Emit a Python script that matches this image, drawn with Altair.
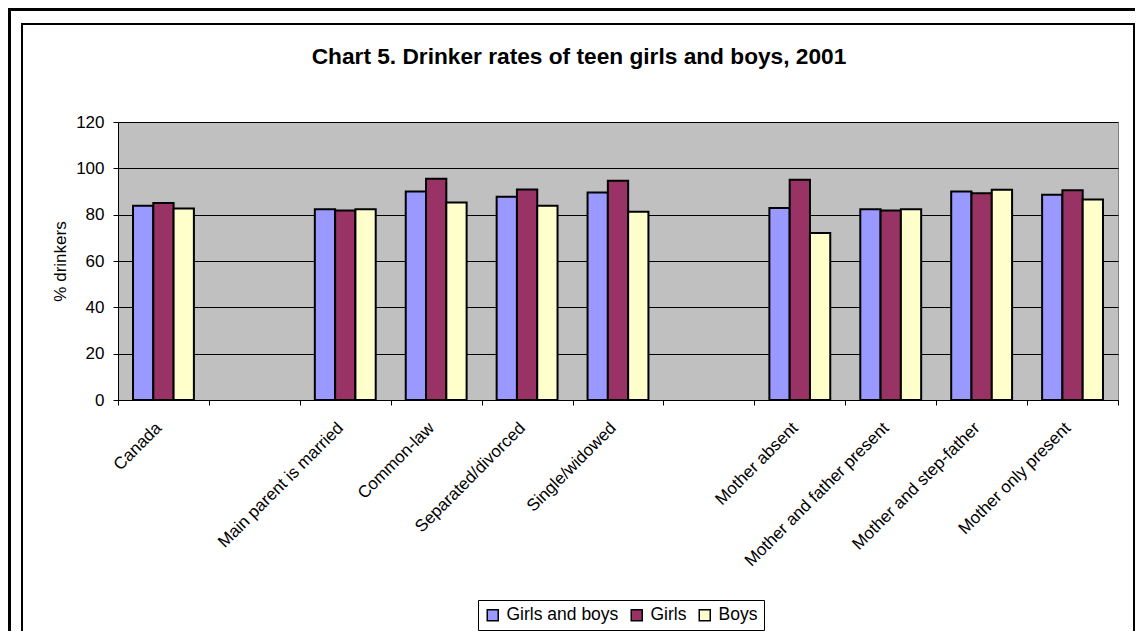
import altair as alt
import pandas as pd

# ---------------- data ----------------
title_text = "Chart 5. Drinker rates of teen girls and boys, 2001"
categories = [
    "Canada", " ", "Main parent is married", "Common-law",
    "Separated/divorced", "Single/widowed", "  ", "Mother absent",
    "Mother and father present", "Mother and step-father", "Mother only present",
]
groups = [
    "Canada", "Main parent is married", "Common-law", "Separated/divorced",
    "Single/widowed", "Mother absent", "Mother and father present",
    "Mother and step-father", "Mother only present",
]
series = ["Girls and boys", "Girls", "Boys"]
girls_and_boys = [83.9, 82.3, 90.0, 87.7, 89.6, 82.9, 82.3, 90.0, 88.6]
girls = [85.0, 81.8, 95.5, 90.9, 94.6, 95.1, 81.8, 89.2, 90.5]
boys = [82.7, 82.3, 85.2, 83.9, 81.3, 72.1, 82.3, 90.8, 86.6]
y_ticks = [0, 20, 40, 60, 80, 100, 120]
colors = ["#9999FF", "#993366", "#FFFFCC"]

rows = []
for s, vals in zip(series, [girls_and_boys, girls, boys]):
    for g, v in zip(groups, vals):
        rows.append({"category": g, "series": s, "value": v})
df = pd.DataFrame(rows)

FONT = "Liberation Sans"
W, H = 1000, 278

bars = alt.Chart(df).mark_bar(stroke="black", strokeWidth=2).encode(
    x=alt.X(
        "category:N",
        scale=alt.Scale(domain=categories, paddingInner=0, paddingOuter=0),
        axis=alt.Axis(
            title=None, labelAngle=-45, labelAlign="right", labelBaseline="middle",
            labelPadding=20, labelOffset=-5, tickBand="extent", tickSize=5,
            labelLimit=400, labelOverlap=False,
            labelFont=FONT, labelFontSize=17, labelColor="black",
            domainColor="black", tickColor="black",
        ),
    ),
    xOffset=alt.XOffset(
        "series:N",
        scale=alt.Scale(domain=series, paddingInner=0, paddingOuter=0.74),
    ),
    y=alt.Y(
        "value:Q",
        scale=alt.Scale(domain=[0, 120], nice=False),
        axis=alt.Axis(
            values=y_ticks, title="% drinkers", grid=True, gridColor="black",
            titleFont=FONT, titleFontSize=17, titleFontWeight="normal",
            titleColor="black", titlePadding=6,
            labelFont=FONT, labelFontSize=17, labelColor="black", labelPadding=9,
            tickSize=5, domainColor="black", tickColor="black",
        ),
    ),
    color=alt.Color(
        "series:N",
        scale=alt.Scale(domain=series, range=colors),
        legend=alt.Legend(
            title=None, orient="none", legendX=360, legendY=478,
            direction="horizontal", strokeColor="black", fillColor="white",
            padding=6, symbolType="square", symbolSize=121,
            symbolStrokeColor="black", symbolStrokeWidth=1.5,
            labelFont=FONT, labelFontSize=17.5, labelColor="black",
            labelOffset=5, columnPadding=9,
        ),
    ),
)

frame_data = pd.DataFrame({"k": [0]})
outer = alt.Chart(frame_data).mark_rect(
    fill="white", fillOpacity=0, stroke="black", strokeWidth=3
).encode(x=alt.value(-108.5), x2=alt.value(1100), y=alt.value(-112.5), y2=alt.value(600))
inner = alt.Chart(frame_data).mark_rect(
    fill="white", fillOpacity=0, stroke="black", strokeWidth=2
).encode(x=alt.value(-96), x2=alt.value(1016), y=alt.value(-98), y2=alt.value(600))

title = alt.Chart(frame_data).mark_text(
    text=title_text, font=FONT, fontSize=22.7, fontWeight="bold", color="black",
    align="center", baseline="alphabetic",
).encode(x=alt.value(461), y=alt.value(-58.5))

chart = alt.layer(bars, outer, inner, title).properties(
    width=W,
    height=H,
    padding={"left": 110, "top": 114, "right": 17, "bottom": 231},
    autosize=alt.AutoSizeParams(type="none"),
    background="white",
).configure_view(fill="#C0C0C0", stroke="#808080", strokeWidth=1)

chart.save("out.html", embed_options={"renderer": "svg", "actions": False})
